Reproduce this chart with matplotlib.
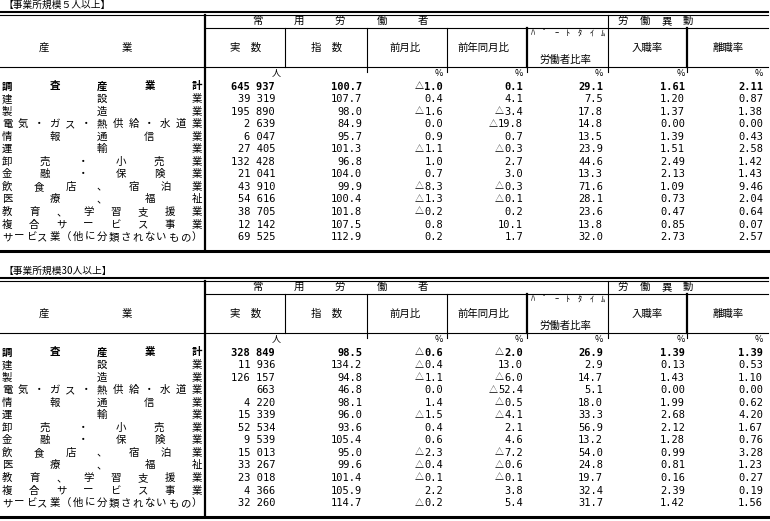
import matplotlib
matplotlib.use("Agg")
import matplotlib.pyplot as plt

plt.rcParams['font.family'] = ['Noto Sans CJK JP', 'DejaVu Sans']

# 産業名
industries = ["調査産業計", "建設業", "製造業", "電気・ガス・熱供給・水道業", "情報通信業",
              "運輸業", "卸売・小売業", "金融・保険業", "飲食店、宿泊業", "医療、福祉",
              "教育、学習支援業", "複合サービス事業", "サービス業（他に分類されないもの）"]

# 事業所規模５人以上
titles = ["【事業所規模５人以上】", "【事業所規模30人以上】"]
jissu_5 = [645937, 39319, 195890, 2639, 6047, 27405, 132428, 21041, 43910, 54616, 38705, 12142, 69525]
shisu_5 = [100.7, 107.7, 98.0, 84.9, 95.7, 101.3, 96.8, 104.0, 99.9, 100.4, 101.8, 107.5, 112.9]
zengetsu_5 = [-1.0, 0.4, -1.6, 0.0, 0.9, -1.1, 1.0, 0.7, -8.3, -1.3, -0.2, 0.8, 0.2]
zennen_5 = [0.1, 4.1, -3.4, -19.8, 0.7, -0.3, 2.7, 3.0, -0.3, -0.1, 0.2, 10.1, 1.7]
part_5 = [29.1, 7.5, 17.8, 14.8, 13.5, 23.9, 44.6, 13.3, 71.6, 28.1, 23.6, 13.8, 32.0]
nyu_5 = [1.61, 1.20, 1.37, 0.00, 1.39, 1.51, 2.49, 2.13, 1.09, 0.73, 0.47, 0.85, 2.73]
ri_5 = [2.11, 0.87, 1.38, 0.00, 0.43, 2.58, 1.42, 1.43, 9.46, 2.04, 0.64, 0.07, 2.57]

# 事業所規模30人以上
jissu_30 = [328849, 11936, 126157, 663, 4220, 15339, 52534, 9539, 15013, 33267, 23018, 4366, 32260]
shisu_30 = [98.5, 134.2, 94.8, 46.8, 98.1, 96.0, 93.6, 105.4, 95.0, 99.6, 101.4, 105.9, 114.7]
zengetsu_30 = [-0.6, -0.4, -1.1, 0.0, 1.4, -1.5, 0.4, 0.6, -2.3, -0.4, -0.1, 2.2, -0.2]
zennen_30 = [-2.0, 13.0, -6.0, -52.4, -0.5, -4.1, 2.1, 4.6, -7.2, -0.6, -0.1, 3.8, 5.4]
part_30 = [26.9, 2.9, 14.7, 5.1, 18.0, 33.3, 56.9, 13.2, 54.0, 24.8, 19.7, 32.4, 31.7]
nyu_30 = [1.39, 0.13, 1.43, 0.00, 1.99, 2.68, 2.12, 1.28, 0.99, 0.81, 0.16, 2.39, 1.42]
ri_30 = [1.39, 0.53, 1.10, 0.00, 0.62, 4.20, 1.67, 0.76, 3.28, 1.23, 0.27, 0.19, 1.56]

col_heads = ["実　数", "指　数", "前月比", "前年同月比", "労働者比率", "入職率", "離職率"]
units = ["人", "", "%", "%", "%", "%", "%"]


def fmt_num(v):
    return f"{v:,}".replace(",", " ")


def spread(ax, text, x0, x1, y, **kw):
    # 文字を均等に並べる
    n = len(text)
    for i, ch in enumerate(text):
        x = x0 + (x1 - x0) * i / (n - 1) if n > 1 else (x0 + x1) / 2
        ax.text(x, y, ch, ha='center', va='center', **kw)


fig = plt.figure(figsize=(7.7, 5.21), dpi=100)
ax = fig.add_axes([0, 0, 1, 1])
ax.set_xlim(0, 770)
ax.set_ylim(521, 0)
ax.axis('off')

right_edges = [275, 362, 443, 523, 603, 685, 763]
head_x = [246, 327, 405, 483, 565, 647, 728]
fs = 7.5
num_fs = 7.5
num_font = ['DejaVu Sans Mono']
char_w = 0.602 * num_fs * 100 / 72  # 等幅フォントの1文字幅(px)

tables = [
    (jissu_5, shisu_5, zengetsu_5, zennen_5, part_5, nyu_5, ri_5),
    (jissu_30, shisu_30, zengetsu_30, zennen_30, part_30, nyu_30, ri_30),
]

for t, data in enumerate(tables):
    off = t * 266
    ax.text(4, 5 + off, titles[t], ha='left', va='center', fontsize=7)

    # 罫線
    ax.plot([0, 768], [12 + off, 12 + off], color='black', lw=1.5)
    ax.plot([0, 768], [15 + off, 15 + off], color='black', lw=0.8)
    ax.plot([205, 768], [28 + off, 28 + off], color='black', lw=0.8)
    ax.plot([0, 768], [67 + off, 67 + off], color='black', lw=0.8)
    ax.plot([0, 768], [251 + off, 251 + off], color='black', lw=2.2)
    ax.plot([205, 205], [15 + off, 251 + off], color='black', lw=1.6)
    for x in [285, 367, 447]:
        ax.plot([x, x], [28 + off, 67 + off], color='black', lw=0.8)
    for x in [527, 687]:
        ax.plot([x, x], [28 + off, 67 + off], color='black', lw=1.6)
    ax.plot([608, 608], [15 + off, 67 + off], color='black', lw=0.8)
    for x in [367, 447, 527, 608, 687]:
        ax.plot([x, x], [67 + off, 72 + off], color='black', lw=0.8)

    # 見出し
    spread(ax, "常用労働者", 257, 423, 21 + off, fontsize=fs)
    spread(ax, "労働異動", 623, 688, 21 + off, fontsize=fs)
    ax.text(44, 48 + off, "産", ha='center', va='center', fontsize=fs)
    ax.text(127, 48 + off, "業", ha='center', va='center', fontsize=fs)
    for j, h in enumerate(col_heads):
        y = 60 if j == 4 else 48
        ax.text(head_x[j], y + off, h, ha='center', va='center', fontsize=fs)
    spread(ax, "ﾊﾟｰﾄﾀｲﾑ", 533, 603, 33 + off, fontsize=6)
    for j, u in enumerate(units):
        if u:
            ax.text(right_edges[j] + (6 if j == 0 else 0), 73 + off, u,
                    ha='right', va='center', fontsize=6.5)

    # データ行
    for i, name in enumerate(industries):
        y = 86.5 + i * 12.55 + off
        w = 'bold' if i == 0 else 'normal'
        spread(ax, name, 7, 197, y, fontsize=fs, fontweight=w)
        vals = [data[0][i], data[1][i], data[2][i], data[3][i], data[4][i], data[5][i], data[6][i]]
        cells = [fmt_num(vals[0]), f"{vals[1]:.1f}", f"{abs(vals[2]):.1f}",
                 f"{abs(vals[3]):.1f}", f"{vals[4]:.1f}",
                 f"{vals[5]:.2f}", f"{vals[6]:.2f}"]
        for j, c in enumerate(cells):
            ax.text(right_edges[j], y, c, ha='right', va='center', fontsize=num_fs,
                    fontweight=w, family=num_font)
            # マイナスは△で表す
            if j in (2, 3) and vals[j] < 0:
                ax.text(right_edges[j] - len(c) * char_w, y, "△", ha='right', va='center',
                        fontsize=6.5, fontweight=w)

fig.savefig("out.png", dpi=100)
